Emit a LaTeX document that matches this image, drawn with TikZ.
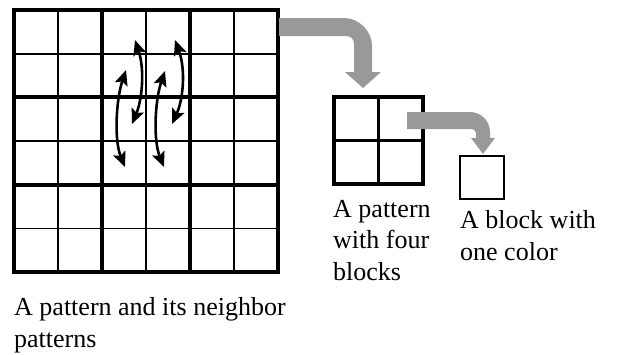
\documentclass[tikz,border=0pt]{standalone}
\usepackage{fontspec}
\setmainfont{Liberation Serif}
\usetikzlibrary{arrows.meta}

\begin{document}
\begin{tikzpicture}[x=1pt,y=-1pt,
  thinline/.style={line width=1.8pt},
  thickline/.style={line width=4pt},
  swaparrow/.style={line width=2.6pt,{Stealth[length=15pt,width=13pt,inset=3pt]}-{Stealth[length=15pt,width=13pt,inset=3pt]}},
  bigarrow/.style={fill=gray!80},
  caption/.style={inner sep=0pt,anchor=base west,align=left,font=\fontsize{26}{31.5}\selectfont}]

\useasboundingbox (0,0) rectangle (622,354);

\def\gx{14}
\def\gy{10}
\def\cw{44}
\def\ch{43.7}

% pattern and its neighbors
\foreach \i in {1,3,5} {
  \draw[thinline] ({\gx+\i*\cw},\gy) -- ({\gx+\i*\cw},{\gy+6*\ch});
  \draw[thinline] (\gx,{\gy+\i*\ch}) -- ({\gx+6*\cw},{\gy+\i*\ch});
}
\foreach \i in {2,4} {
  \draw[thickline] ({\gx+\i*\cw},\gy) -- ({\gx+\i*\cw},{\gy+6*\ch});
  \draw[thickline] (\gx,{\gy+\i*\ch}) -- ({\gx+6*\cw},{\gy+\i*\ch});
}
\draw[thickline] (\gx,\gy) rectangle ({\gx+6*\cw},{\gy+6*\ch});

\draw[swaparrow] (135,40) .. controls (145,70) and (142,100) .. (132,124);
\draw[swaparrow] (126,70) .. controls (116,100) and (114,140) .. (125,167);
\draw[swaparrow] (175,40) .. controls (186,70) and (183,100) .. (172,124);
\draw[swaparrow] (165,71) .. controls (155,100) and (153,140) .. (164,167);

% pattern with four blocks
\draw[thinline,line width=2.5pt] (378.5,97) -- (378.5,184) (334,140.5) -- (423,140.5);
\draw[thickline] (334,97) rectangle (423,184);

% one block
\draw[line width=2.2pt] (460,156) rectangle (504,199);

\fill[bigarrow] (279,18) -- (344,18) .. controls (359,18) and (372,31) .. (372,46)
  -- (372,72) -- (381,72) -- (363,88) -- (345,72) -- (354,72) -- (354,44)
  .. controls (354,39) and (351,36) .. (346,36) -- (279,36) -- cycle;
\fill[bigarrow] (407,112) -- (470,112) .. controls (481,112) and (490,121) .. (490,132)
  -- (490,138) -- (495,138) -- (483,154) -- (471,138) -- (476,138) -- (476,133)
  .. controls (476,131) and (474,129) .. (472,129) -- (407,129) -- cycle;

\node[caption] (lblneighbor) at (14,347) {A pattern and its neighbor\\patterns};
\node[caption] (lblfour) at (333,280) {A pattern\\with four\\blocks};
\node[caption] (lblone) at (460,260) {A block with\\one color};

\end{tikzpicture}
\end{document}
